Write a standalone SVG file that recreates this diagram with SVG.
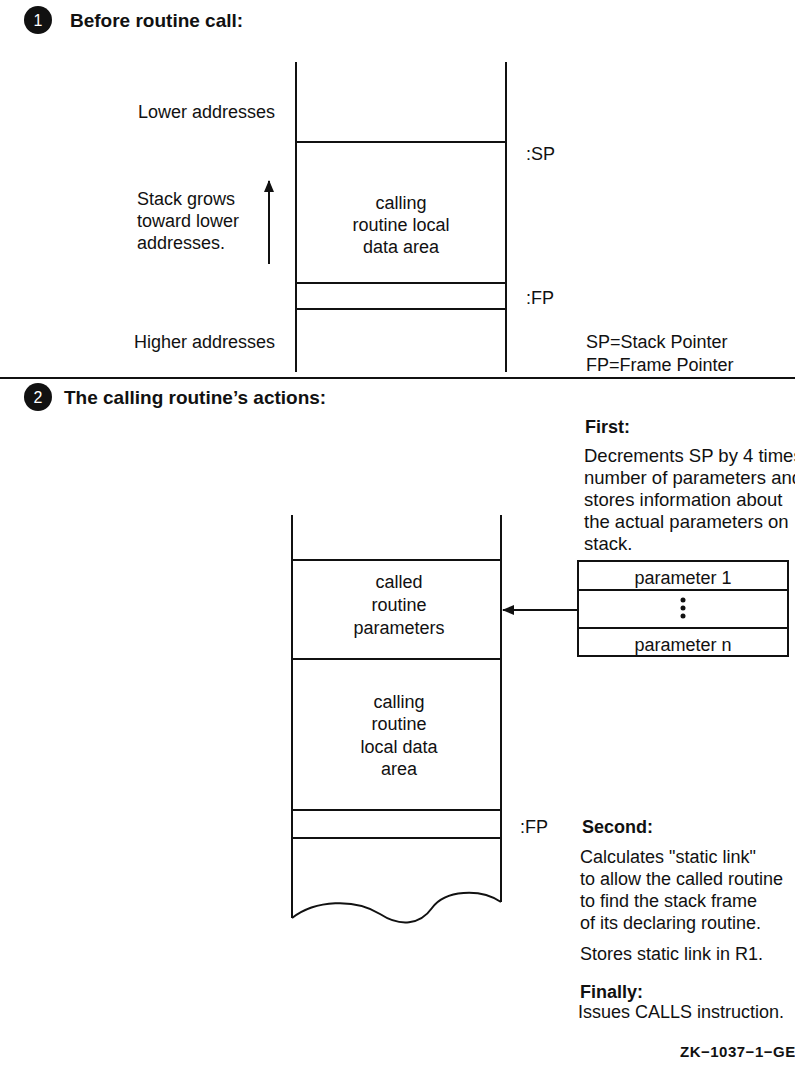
<svg xmlns="http://www.w3.org/2000/svg" width="795" height="1067" viewBox="0 0 795 1067">
<style>
text{font-family:"Liberation Sans",Arial,sans-serif;font-size:18px;fill:#111}
.b{font-weight:bold}
.h{font-weight:bold;font-size:19px}
.c{text-anchor:middle}
.w{font-size:18.5px}
.ln{stroke:#111;stroke-width:2;fill:none}
.num{fill:#fff;font-size:16px;text-anchor:middle}
</style>
<defs>
<marker id="ah" viewBox="0 0 12 10" refX="11" refY="5" markerWidth="12" markerHeight="10" markerUnits="userSpaceOnUse" orient="auto"><path d="M0,0 L12,5 L0,10 Z" fill="#111"/></marker>
</defs>
<rect width="795" height="1067" fill="#fff"/>

<g id="section1">
<circle cx="38" cy="20" r="14" fill="#111"/>
<text class="num" x="38" y="26">1</text>
<text class="h" x="70" y="27">Before routine call:</text>
</g>

<g id="stack1">
<path class="ln" d="M296,62 V372 M506,62 V372 M296,142 H506 M296,283 H506 M296,309 H506"/>
<text class="c" x="401" y="209">calling</text>
<text class="c" x="401" y="231">routine local</text>
<text class="c" x="401" y="253">data area</text>
</g>

<g id="labels1">
<text x="138" y="118">Lower addresses</text>
<text x="137" y="205">Stack grows</text>
<text x="137" y="227">toward lower</text>
<text x="137" y="249">addresses.</text>
<text x="134" y="348">Higher addresses</text>
<text x="526" y="160">:SP</text>
<text x="526" y="304">:FP</text>
<text x="586" y="348">SP=Stack Pointer</text>
<text x="586" y="371">FP=Frame Pointer</text>
</g>

<line class="ln" x1="0" y1="378" x2="795" y2="378"/>

<g id="section2">
<circle cx="38" cy="397" r="14" fill="#111"/>
<text class="num" x="38" y="403">2</text>
<text class="h" x="64" y="404">The calling routine’s actions:</text>
</g>

<g id="first">
<text class="b" x="585" y="433">First:</text>
<text class="w" x="584" y="462">Decrements SP by 4 times</text>
<text class="w" x="584" y="484">number of parameters and</text>
<text class="w" x="584" y="506">stores information about</text>
<text class="w" x="584" y="528">the actual parameters on</text>
<text class="w" x="584" y="550">stack.</text>
</g>

<g id="params">
<rect class="ln" x="578" y="561" width="210" height="95"/>
<path class="ln" d="M578,590 H788 M578,628 H788"/>
<text class="c" x="683" y="584">parameter 1</text>
<circle cx="683" cy="600" r="2.5" fill="#111"/>
<circle cx="683" cy="608" r="2.5" fill="#111"/>
<circle cx="683" cy="616" r="2.5" fill="#111"/>
<text class="c" x="683" y="651">parameter n</text>
</g>

<g id="stack2">
<path class="ln" d="M292,515 V918 M501,515 V902 M292,560 H501 M292,659 H501 M292,810 H501 M292,838 H501"/>
<path class="ln" d="M292,918 C315,900 355,898 380,914 C400,927 420,925 432,908 C445,890 480,888 501,902"/>
<text class="c" x="399" y="588">called</text>
<text class="c" x="399" y="611">routine</text>
<text class="c" x="399" y="634">parameters</text>
<text class="c" x="399" y="708">calling</text>
<text class="c" x="399" y="730">routine</text>
<text class="c" x="399" y="753">local data</text>
<text class="c" x="399" y="775">area</text>
<text x="520" y="833">:FP</text>
</g>

<g id="connectors">
<line class="ln" x1="578" y1="610" x2="503" y2="610" marker-end="url(#ah)"/>
<line class="ln" x1="269" y1="264" x2="269" y2="181" marker-end="url(#ah)"/>
</g>

<g id="second">
<text class="b" x="582" y="833">Second:</text>
<text x="580" y="863">Calculates "static link"</text>
<text x="580" y="885">to allow the called routine</text>
<text x="580" y="907">to find the stack frame</text>
<text x="580" y="929">of its declaring routine.</text>
<text x="580" y="960">Stores static link in R1.</text>
<text class="b" x="580" y="998">Finally:</text>
<text x="578" y="1018">Issues CALLS instruction.</text>
<text x="680" y="1057" style="font-size:15px;font-weight:bold;letter-spacing:0.5px">ZK−1037−1−GE</text>
</g>
</svg>
